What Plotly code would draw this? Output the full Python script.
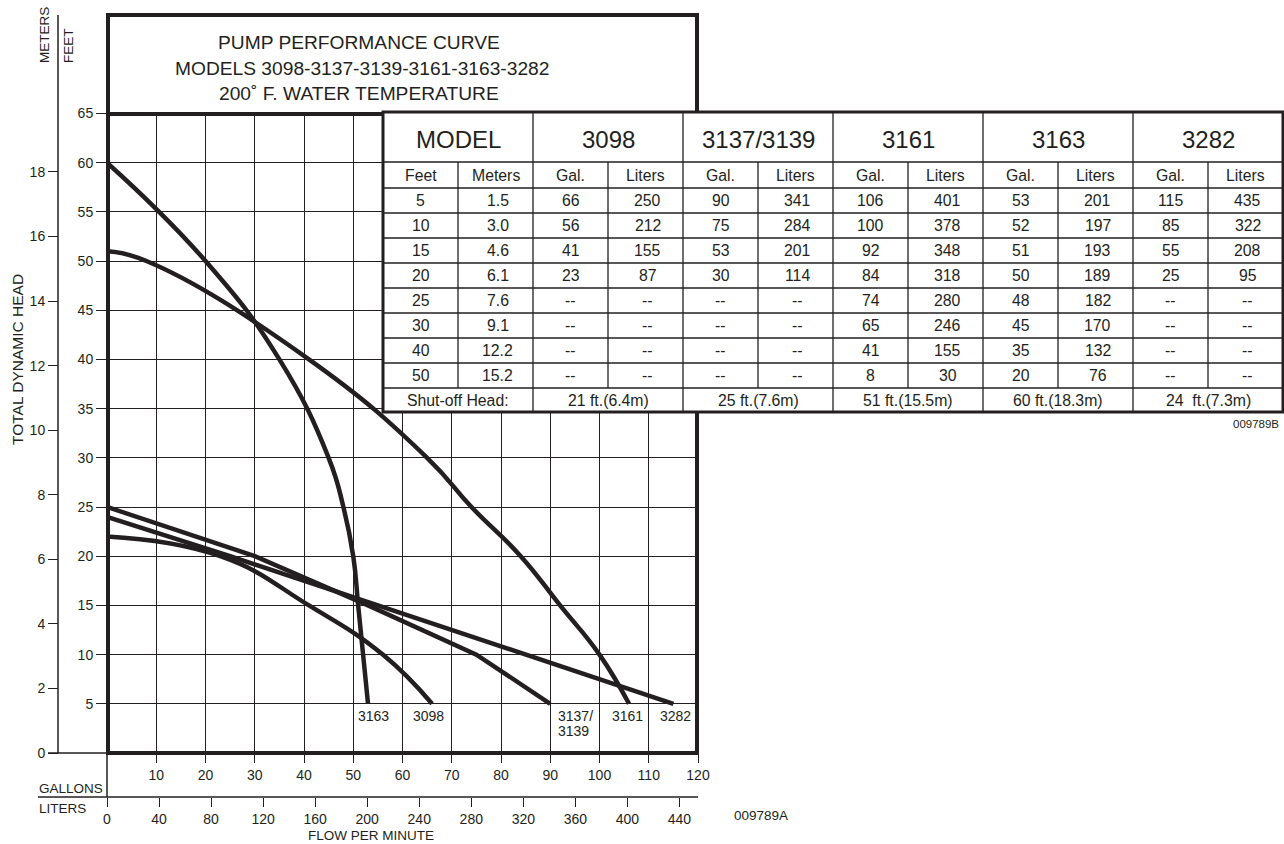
import plotly.graph_objects as go

# ---------------- data ----------------
models = ["3098", "3137/3139", "3161", "3163", "3282"]
head_feet = [5, 10, 15, 20, 25, 30, 40, 50]
head_meters = ["1.5", "3.0", "4.6", "6.1", "7.6", "9.1", "12.2", "15.2"]

gal_3098 = [66, 56, 41, 23, None, None, None, None]
lit_3098 = [250, 212, 155, 87, None, None, None, None]
gal_3137 = [90, 75, 53, 30, None, None, None, None]
lit_3137 = [341, 284, 201, 114, None, None, None, None]
gal_3161 = [106, 100, 92, 84, 74, 65, 41, 8]
lit_3161 = [401, 378, 348, 318, 280, 246, 155, 30]
gal_3163 = [53, 52, 51, 50, 48, 45, 35, 20]
lit_3163 = [201, 197, 193, 189, 182, 170, 132, 76]
gal_3282 = [115, 85, 55, 25, None, None, None, None]
lit_3282 = [435, 322, 208, 95, None, None, None, None]

shutoff_text = ["21 ft.(6.4m)", "25 ft.(7.6m)", "51 ft.(15.5m)", "60 ft.(18.3m)", "24  ft.(7.3m)"]
# head at zero flow, as read from the left ends of the drawn curves (feet)
curve_start_ft = [22, 25, 51, 60, 24]
curve_smooth = [True, False, True, True, False]

gal_ticks = [10, 20, 30, 40, 50, 60, 70, 80, 90, 100, 110, 120]
liter_ticks = [0, 40, 80, 120, 160, 200, 240, 280, 320, 360, 400, 440]
feet_ticks = [5, 10, 15, 20, 25, 30, 35, 40, 45, 50, 55, 60, 65]
meter_ticks = [0, 2, 4, 6, 8, 10, 12, 14, 16, 18]

GAL_MAX = 120
FT_MAX = 65
L_PER_GAL = 3.78541
M_PER_FT = 0.3048

# ---------------- layout helpers ----------------
W, H = 1284, 844
INK = "#231f20"
FONT = "Liberation Sans, Arial, Helvetica, sans-serif"


def X(p):
    return p / W


def Y(p):
    return 1 - p / H


PL, PR, PB, PT = 107, 698, 753, 113.4  # plot area (pixels)

fig = go.Figure()

gal_cols = [gal_3098, gal_3137, gal_3161, gal_3163, gal_3282]
lit_cols = [lit_3098, lit_3137, lit_3161, lit_3163, lit_3282]

for i, m in enumerate(models):
    pts = [(g, f) for g, f in zip(gal_cols[i], head_feet) if g is not None]
    pts.sort()
    xs = [0] + [p[0] for p in pts]
    ys = [curve_start_ft[i]] + [p[1] for p in pts]
    fig.add_trace(go.Scatter(
        x=xs, y=ys, mode="lines", name=m,
        line=dict(color=INK, width=4.5,
                  shape="spline" if curve_smooth[i] else "linear",
                  smoothing=1.3),
        hoverinfo="skip", showlegend=False))

# dummy trace to bind the secondary (liters / meters) axes
fig.add_trace(go.Scatter(x=[0], y=[0], xaxis="x2", yaxis="y2", mode="markers",
                         marker=dict(opacity=0), hoverinfo="skip", showlegend=False))

TS = 14
tickfont = dict(family=FONT, size=TS, color=INK)

fig.update_layout(
    width=W, height=H, autosize=False,
    margin=dict(l=0, r=0, t=0, b=0, pad=0, autoexpand=False),
    paper_bgcolor="white", plot_bgcolor="white",
    font=dict(family=FONT, color=INK),
    xaxis=dict(domain=[X(PL), X(PR)], range=[0, GAL_MAX], tickvals=gal_ticks,
               ticks="outside", ticklen=9, tickwidth=1.3, tickcolor=INK,
               showgrid=True, gridcolor=INK, gridwidth=1.3, zeroline=False,
               showline=False, tickfont=tickfont, anchor="y", fixedrange=True),
    yaxis=dict(domain=[Y(PB), Y(PT)], range=[0, FT_MAX], tickvals=feet_ticks,
               ticks="outside", ticklen=10, tickwidth=1.3, tickcolor=INK,
               showgrid=True, gridcolor=INK, gridwidth=1.3, zeroline=False,
               showline=False, tickfont=tickfont, anchor="x", fixedrange=True),
    xaxis2=dict(overlaying="x", anchor="free", position=Y(797), side="bottom",
                range=[0, GAL_MAX * L_PER_GAL], tickvals=liter_ticks,
                ticks="outside", ticklen=9, tickwidth=1.3, tickcolor=INK,
                showgrid=False, zeroline=False, showline=False, tickfont=tickfont,
                fixedrange=True),
    yaxis2=dict(overlaying="y", anchor="free", position=X(58), side="left",
                range=[0, FT_MAX * M_PER_FT], tickvals=meter_ticks,
                ticks="outside", ticklen=10, tickwidth=1.3, tickcolor=INK,
                showgrid=False, zeroline=False, showline=False, tickfont=tickfont,
                fixedrange=True),
)

shapes = []


def line(x0, y0, x1, y1, w=1.5):
    shapes.append(dict(type="line", xref="paper", yref="paper",
                       x0=X(x0), y0=Y(y0), x1=X(x1), y1=Y(y1),
                       line=dict(color=INK, width=w), layer="above"))


# thick outer frame and title divider
shapes.append(dict(type="rect", xref="paper", yref="paper",
                   x0=X(108), y0=Y(753), x1=X(697), y1=Y(15),
                   line=dict(color=INK, width=4), layer="above"))
line(107, 114, 698, 114, 4)
# meters axis line, zero connector, liters line, connectors
line(58, 15, 58, 753)
line(48, 753, 107, 753)
line(38, 797, 698, 797)
line(107, 753, 107, 797)

# ---------------- table ----------------
TL, TR, TT, TBm = 383, 1283, 112, 412
col_x = [383, 458, 533, 608, 683, 758, 833, 908, 983, 1058, 1133, 1208, 1283]
row_y = [112, 162, 188, 213, 238, 263, 288, 313, 338, 363, 388, 412]

shapes.append(dict(type="rect", xref="paper", yref="paper",
                   x0=X(TL), y0=Y(TBm), x1=X(TR), y1=Y(TT),
                   fillcolor="white", line=dict(color=INK, width=3), layer="above"))
for yy in row_y[1:-1]:
    line(TL, yy, TR, yy, 1.3)
for k, xx in enumerate(col_x[1:-1], start=1):
    if k % 2 == 0:
        line(xx, TT, xx, TBm, 1.3)
    else:
        line(xx, row_y[1], xx, row_y[-2], 1.3)

ann = []


def text(t, xp, yp, size, xanchor="center", yanchor="middle", angle=0):
    ann.append(dict(text=t, xref="paper", yref="paper", x=X(xp), y=Y(yp),
                    xanchor=xanchor, yanchor=yanchor, showarrow=False,
                    textangle=angle, borderpad=0,
                    font=dict(family=FONT, size=size, color=INK)))


def cx(c0, c1):
    return (col_x[c0] + col_x[c1]) / 2


def cy(r):
    return (row_y[r] + row_y[r + 1]) / 2


HS, CS = 24, 15.8
text("MODEL", cx(0, 2), cy(0) + 2, HS)
for i, m in enumerate(models):
    text(m, cx(2 + 2 * i, 4 + 2 * i), cy(0) + 2, HS)
text("Feet", cx(0, 1), cy(1), CS)
text("Meters", cx(1, 2), cy(1), CS)
for i in range(len(models)):
    text("Gal.", cx(2 + 2 * i, 3 + 2 * i), cy(1), CS)
    text("Liters", cx(3 + 2 * i, 4 + 2 * i), cy(1), CS)
for r, (ft, mt) in enumerate(zip(head_feet, head_meters)):
    text(str(ft), cx(0, 1), cy(2 + r), CS)
    text(mt, cx(1, 2) + 2, cy(2 + r), CS)
    for i in range(len(models)):
        g = gal_cols[i][r]
        l = lit_cols[i][r]
        text("--" if g is None else str(g), cx(2 + 2 * i, 3 + 2 * i), cy(2 + r), CS)
        text("--" if l is None else str(l), cx(3 + 2 * i, 4 + 2 * i) + 2, cy(2 + r), CS)
text("Shut-off Head:", cx(0, 2), cy(10), CS)
for i in range(len(models)):
    text(shutoff_text[i], cx(2 + 2 * i, 4 + 2 * i), cy(10), CS)
text("009789B", 1280, 424, 11.5, xanchor="right")

# ---------------- titles & labels ----------------
TT_S = 19.2
text("PUMP PERFORMANCE CURVE", 359, 42, TT_S)
text("MODELS 3098-3137-3139-3161-3163-3282", 362, 69, TT_S)
text("200˚ F. WATER TEMPERATURE", 359, 94, TT_S)

text("METERS", 45, 35, 13.5, angle=-90)
text("FEET", 69, 46, 13.5, angle=-90)
text("TOTAL DYNAMIC HEAD", 18, 360, 15.5, angle=-90)
text("GALLONS", 38, 788, 13.5, xanchor="left")
text("LITERS", 38, 808, 13.5, xanchor="left")
text("FLOW PER MINUTE", 371, 835, 13.5)
text("009789A", 761, 815, 13.5)

# curve end labels
LS = 14
text("3163", 373, 716, LS)
text("3098", 428, 716, LS)
text("3137/", 557, 716, LS, xanchor="left")
text("3139", 557, 731, LS, xanchor="left")
text("3161", 627, 716, LS)
text("3282", 675, 716, LS)

fig.update_layout(shapes=shapes, annotations=ann)

fig.write_html(
    "out.html",
    config={"displayModeBar": False},
    default_width="1284px",
    default_height="844px",
    post_script="document.body.style.margin='0';document.body.style.overflow='hidden';",
)
